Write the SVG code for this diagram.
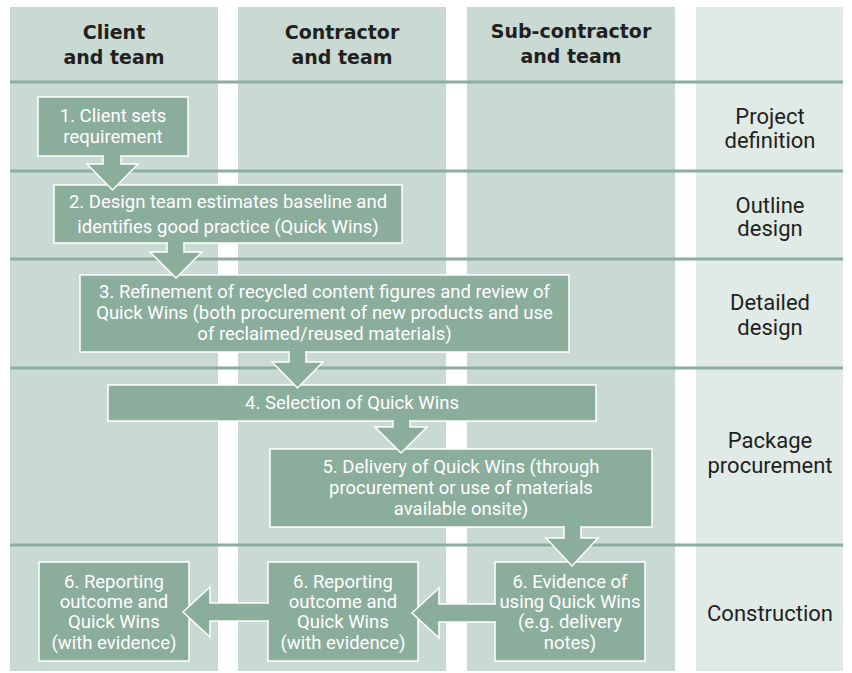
<svg xmlns="http://www.w3.org/2000/svg" width="852" height="673" viewBox="0 0 852 673">
  <style>
    .lane { fill: #c8dad3; }
    .lane-stage { fill: #e0ebe7; }
    .row-line { stroke: #8cae9f; stroke-width: 3; }
    .node rect { fill: #8bad9c; stroke: #ffffff; stroke-width: 1.5; }
    .node text { font-family: Roboto, "Liberation Sans", sans-serif; font-size: 18.5px; fill: #ffffff; text-anchor: middle; }
    .head { font-family: "DejaVu Sans", "Liberation Sans", sans-serif; font-weight: bold; font-size: 19px; fill: #231f20; text-anchor: middle; }
    .stage { font-family: Roboto, "Liberation Sans", sans-serif; font-size: 22px; fill: #231f20; text-anchor: middle; }
    .arrow { fill: #8bad9c; stroke: #ffffff; stroke-width: 1.5; stroke-linejoin: miter; }
  </style>

  <!-- swimlanes -->
  <g id="lanes">
    <rect class="lane" x="10" y="7" width="208" height="664"/>
    <rect class="lane" x="238" y="7" width="208" height="664"/>
    <rect class="lane" x="467" y="7" width="208" height="664"/>
    <rect class="lane-stage" x="696" y="7" width="147" height="664"/>
  </g>

  <!-- stage separators -->
  <g id="row-lines">
    <line class="row-line" x1="10" y1="82" x2="843" y2="82"/>
    <line class="row-line" x1="10" y1="171" x2="843" y2="171"/>
    <line class="row-line" x1="10" y1="259" x2="843" y2="259"/>
    <line class="row-line" x1="10" y1="368" x2="843" y2="368"/>
    <line class="row-line" x1="10" y1="545" x2="843" y2="545"/>
  </g>

  <!-- lane headings -->
  <g id="lane-headings">
    <text class="head" x="114" y="39">Client</text>
    <text class="head" x="114" y="64">and team</text>
    <text class="head" x="342" y="39">Contractor</text>
    <text class="head" x="342" y="64">and team</text>
    <text class="head" x="571" y="38">Sub-contractor</text>
    <text class="head" x="571" y="63">and team</text>
  </g>

  <!-- stage labels -->
  <g id="stage-labels">
    <text class="stage" x="770" y="124">Project</text>
    <text class="stage" x="770" y="148">definition</text>
    <text class="stage" x="770" y="213">Outline</text>
    <text class="stage" x="770" y="236">design</text>
    <text class="stage" x="770" y="310">Detailed</text>
    <text class="stage" x="770" y="335">design</text>
    <text class="stage" x="770" y="448">Package</text>
    <text class="stage" x="770" y="473">procurement</text>
    <text class="stage" x="770" y="621">Construction</text>
  </g>

  <!-- process steps -->
  <g id="step1" class="node">
    <rect x="38" y="97" width="150" height="59"/>
    <text x="113" y="122">1. Client sets</text>
    <text x="113" y="143">requirement</text>
  </g>
  <g id="step2" class="node">
    <rect x="54" y="185" width="348" height="58"/>
    <text x="228" y="208">2. Design team estimates baseline and</text>
    <text x="228" y="233">identifies good practice (Quick Wins)</text>
  </g>
  <g id="step3" class="node">
    <rect x="80" y="275" width="489" height="77"/>
    <text x="324.5" y="298">3. Refinement of recycled content figures and review of</text>
    <text x="324.5" y="319">Quick Wins (both procurement of new products and use</text>
    <text x="324.5" y="340">of reclaimed/reused materials)</text>
  </g>
  <g id="step4" class="node">
    <rect x="108" y="385" width="488" height="36"/>
    <text x="352" y="409">4. Selection of Quick Wins</text>
  </g>
  <g id="step5" class="node">
    <rect x="270" y="449" width="382" height="78"/>
    <text x="461" y="473">5. Delivery of Quick Wins (through</text>
    <text x="461" y="494">procurement or use of materials</text>
    <text x="461" y="515">available onsite)</text>
  </g>
  <g id="step6-client" class="node">
    <rect x="39" y="562" width="150" height="99"/>
    <text x="114" y="587.5">6. Reporting</text>
    <text x="114" y="608">outcome and</text>
    <text x="114" y="628">Quick Wins</text>
    <text x="114" y="648.5">(with evidence)</text>
  </g>
  <g id="step6-contractor" class="node">
    <rect x="268" y="562" width="150" height="99"/>
    <text x="343" y="587.5">6. Reporting</text>
    <text x="343" y="608">outcome and</text>
    <text x="343" y="628">Quick Wins</text>
    <text x="343" y="648.5">(with evidence)</text>
  </g>
  <g id="step6-subcontractor" class="node">
    <rect x="495" y="562" width="150" height="99"/>
    <text x="570" y="587.5">6. Evidence of</text>
    <text x="570" y="608">using Quick Wins</text>
    <text x="570" y="628">(e.g. delivery</text>
    <text x="570" y="648.5">notes)</text>
  </g>

  <!-- block arrows between steps (open paths so they merge into the source box) -->
  <g id="connectors">
    <path class="arrow" d="M103,155 V164 H87 L112.5,190 L138,164 H121 V155"/>
    <path class="arrow" d="M167,242 V252 H150 L176,278 L202,252 H184 V242"/>
    <path class="arrow" d="M289,351 V362 H272 L297.5,388 L323,362 H306 V351"/>
    <path class="arrow" d="M393,420 V427 H375 L401,453 L427,427 H410 V420"/>
    <path class="arrow" d="M564,526 V538 H546 L572,566 L598,538 H581 V526"/>
    <path class="arrow" d="M496,604 H439 V588 L412,613 L439,638 V622 H496"/>
    <path class="arrow" d="M269,603 H210 V587 L183,612 L210,637 V621 H269"/>
  </g>
</svg>
